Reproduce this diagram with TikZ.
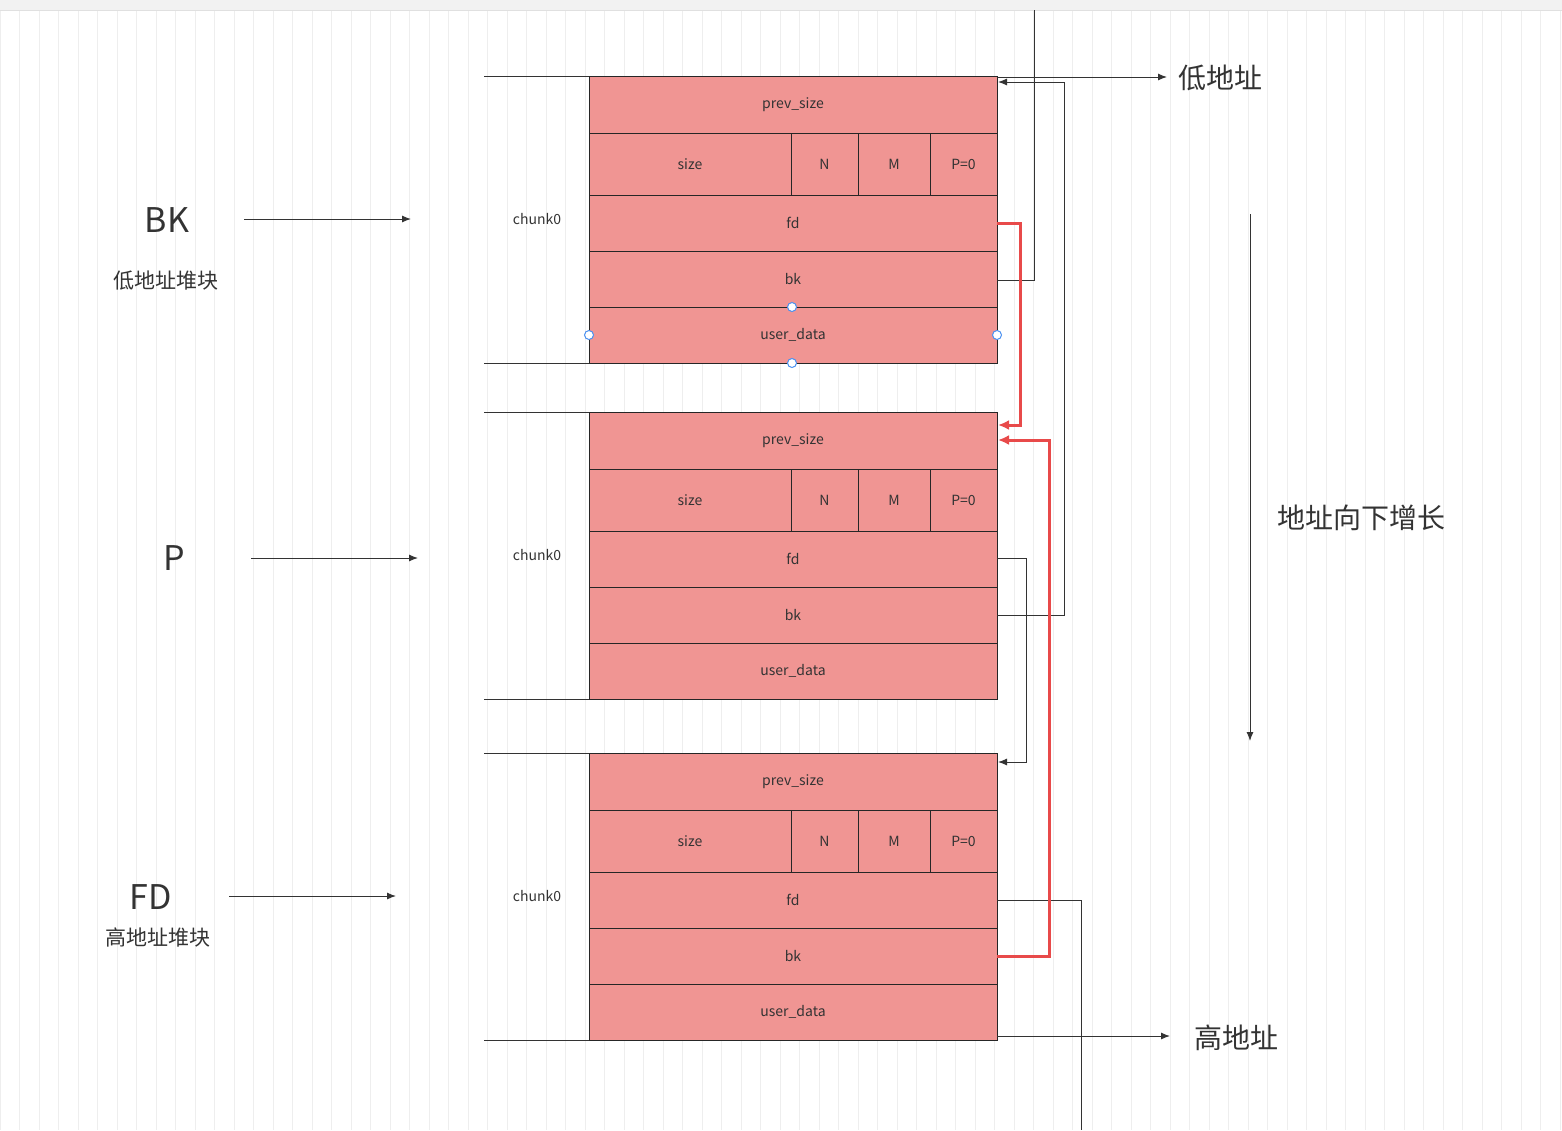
\documentclass[tikz,border=0pt]{standalone}
\usepackage{fontspec}
\setmainfont{Noto Sans CJK SC}
\usetikzlibrary{arrows.meta}
\definecolor{cf}{HTML}{F09593}
\definecolor{rd}{HTML}{E84A4A}
\definecolor{gl}{HTML}{EEEEEE}
\definecolor{hb}{HTML}{4A90F0}
\begin{document}
\begin{tikzpicture}[x=1pt,y=-1pt,
  fld/.style={draw=black!85,fill=cf,line width=1pt,font=\fontsize{14}{14}\selectfont,text=black!80},
  ln/.style={draw=black!80,line width=1pt},
  arr/.style={ln,-{Latex[length=9pt,width=7pt]}},
  rarr/.style={draw=rd,line width=3pt,-{Latex[length=11pt,width=10pt]}},
  big/.style={font=\fontsize{34}{34}\selectfont,text=black!80},
  cn/.style={font=\fontsize{28}{28}\selectfont,text=black!80},
  sm/.style={font=\fontsize{21}{21}\selectfont,text=black!80},
  hdl/.style={circle,draw=hb,fill=white,line width=1pt,inner sep=0pt,minimum size=9pt}]
\useasboundingbox (0,0) rectangle (1562,1130);
\fill[white] (0,0) rectangle (1562,1130);
\draw[gl,line width=0.6pt] (0,10) grid[step=19.5] (1562,1130);
\fill[black!5] (0,0) rectangle (1562,10);
\draw[black!12] (0,10) -- (1562,10);
% chunks
\foreach \t/\n in {76/a,412/b,753/c}{
  \pgfmathsetmacro\ya{\t+57}\pgfmathsetmacro\yb{\t+119}\pgfmathsetmacro\yc{\t+175}
  \pgfmathsetmacro\yd{\t+231}\pgfmathsetmacro\ye{\t+287}
  \path[fld] (589,\t) rectangle node{prev\_size} (997,\ya);
  \path[fld] (589,\ya) rectangle node{size} (791,\yb);
  \path[fld] (791,\ya) rectangle node{N} (858,\yb);
  \path[fld] (858,\ya) rectangle node{M} (930,\yb);
  \path[fld] (930,\ya) rectangle node{P=0} (997,\yb);
  \path[fld] (589,\yb) rectangle node(fd\n){fd} (997,\yc);
  \path[fld] (589,\yc) rectangle node(bk\n){bk} (997,\yd);
  \path[fld] (589,\yd) rectangle node{user\_data} (997,\ye);
  \draw[ln] (484,\t) -- (589,\t);
  \draw[ln] (484,\ye) -- (589,\ye);
  \node[font=\fontsize{14}{14}\selectfont,text=black!80] at (537,{\t+143}) {chunk0};
}
% handles
\node[hdl] at (792,307) {};\node[hdl] at (589,335) {};
\node[hdl] at (997,335) {};\node[hdl] at (792,363) {};
% left labels
\node[big] (BK) at (167,220) {BK};
\node[sm] at (166,281) {低地址堆块};
\draw[arr] (244,219) -- (411,219);
\node[big] (P) at (174,558) {P};
\draw[arr] (251,558) -- (418,558);
\node[big] (FD) at (151,897) {FD};
\node[sm] at (158,937) {高地址堆块};
\draw[arr] (229,896) -- (396,896);
% right labels
\node[cn] (lo) at (1220,78) {低地址};
\draw[arr] (997,77) -- (1167,77);
\node[cn] (hi) at (1236,1038) {高地址};
\draw[arr] (997,1036) -- (1170,1036);
\node[cn] (grow) at (1361,518) {地址向下增长};
\draw[arr] (1250,214) -- (1250,741);
% connectors
\draw[ln] (1034,10) -- (1034,280) -- (997,280);
\draw[arr] (997,615) -- (1064,615) -- (1064,82) -- (998,82);
\draw[arr] (997,558) -- (1026,558) -- (1026,762) -- (998,762);
\draw[ln] (997,900) -- (1081,900) -- (1081,1130);
\draw[rarr] (997,223) -- (1020,223) -- (1020,425) -- (998,425);
\draw[rarr] (997,956) -- (1049,956) -- (1049,440) -- (998,440);
\end{tikzpicture}
\end{document}
